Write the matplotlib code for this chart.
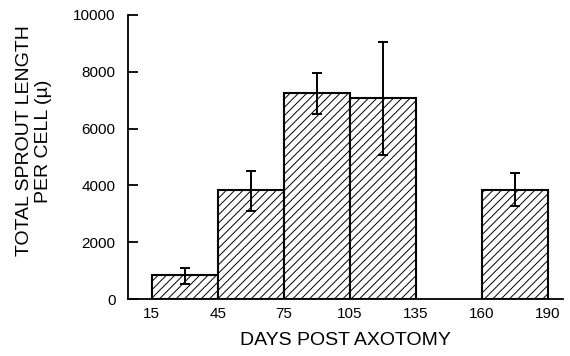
import matplotlib
matplotlib.use('Agg')
import matplotlib.pyplot as plt
import numpy as np

plt.rcParams['font.family'] = ['Liberation Sans', 'DejaVu Sans']
plt.rcParams['hatch.linewidth'] = 0.7

# day boundaries shown on the x axis (evenly spaced, one slot per interval)
tick_labels = ['15', '45', '75', '105', '135', '160', '190']
# each bar starts at this tick slot and spans one slot
bar_slot = [0, 1, 2, 3, 5]
sprout_len = [855, 3830, 7250, 7080, 3840]
err_low = [310, 740, 730, 2010, 570]
err_high = [240, 680, 720, 1970, 590]

fig = plt.figure(figsize=(5.7, 3.56), dpi=100)
ax = fig.add_axes([0.2246, 0.160, 0.9877 - 0.2246, 0.9579 - 0.160])

x = np.array(bar_slot) + 0.5
ax.bar(x, sprout_len, width=1.0, color='white', edgecolor='black',
       linewidth=1.5, hatch='////', zorder=2)
ax.errorbar(x, sprout_len, yerr=[err_low, err_high], fmt='none',
            ecolor='black', elinewidth=1.4, capsize=3.6, capthick=1.4, zorder=3)

ax.set_xlim(-0.36, 6.23)
ax.set_ylim(0, 10000)
ax.set_xticks(range(len(tick_labels)))
ax.set_xticklabels(tick_labels)
ax.set_yticks([0, 2000, 4000, 6000, 8000, 10000])

ax.spines['top'].set_visible(False)
ax.spines['right'].set_visible(False)
ax.spines['left'].set_linewidth(1.3)
ax.spines['bottom'].set_linewidth(1.3)

ax.tick_params(axis='y', direction='in', length=7, width=1.3, pad=9, labelsize=11)
ax.tick_params(axis='x', length=0, pad=6, labelsize=11)

ax.set_xlabel('DAYS POST AXOTOMY', fontsize=14, labelpad=8)
fig.text(0.06, 1 - 141 / 356, 'TOTAL SPROUT LENGTH\nPER CELL (\u00b5)',
         rotation=90, ha='center', va='center', fontsize=14,
         multialignment='center', linespacing=1.15)

fig.savefig('out.png', dpi=100)
